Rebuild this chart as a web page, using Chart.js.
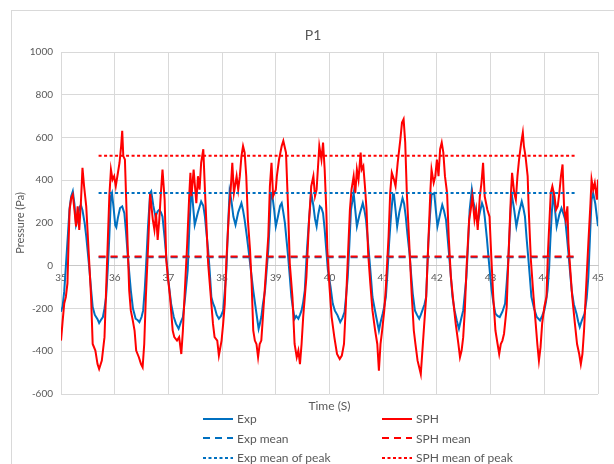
<!DOCTYPE html>
<html>
<head>
<meta charset="utf-8">
<script src="https://cdn.jsdelivr.net/npm/chart.js@4"></script>
<style>
  body { margin: 0; width: 614px; height: 464px; overflow: hidden; background: #fff; position: relative; font-family: Lato, sans-serif; }
  #frame { position: absolute; left: 11px; top: 10px; width: 640px; height: 480px; border: 1px solid #d9d9d9; pointer-events: none; }
  #chart { position: absolute; left: 0; top: 0; }
  #title { position: absolute; left: 12px; width: 602px; top: 26px; line-height: 18px; text-align: center; font-size: 14px; color: #595959; }
  #xtitle { position: absolute; left: 61px; width: 537px; top: 398px; line-height: 15px; text-align: center; font-size: 12px; color: #595959; }
  #legend { position: absolute; left: 203px; top: 409px; display: grid; grid-template-columns: 179px 179px; font-size: 12px; color: #595959; }
  .item { display: flex; align-items: center; height: 19.5px; white-space: nowrap; }
  .item svg { margin-right: 4px; }
</style>
</head>
<body>
<canvas id="chart" width="614" height="464"></canvas>
<div id="frame"></div>
<div id="title">P1</div>
<div id="xtitle">Time (S)</div>
<div id="legend"></div>
<script>
const FONT = 'Lato, sans-serif';
const GREY = '#595959';

// Experimental pressure trace
const expTime = [35.00,35.03,35.06,35.09,35.13,35.16,35.19,35.22,35.25,35.28,35.31,35.34,35.37,35.40,35.44,35.47,35.50,35.53,35.56,35.59,35.63,35.68,35.71,35.74,35.78,35.81,35.84,35.87,35.90,35.93,35.95,35.98,36.01,36.03,36.06,36.10,36.14,36.18,36.21,36.24,36.27,36.30,36.34,36.39,36.43,36.46,36.50,36.53,36.56,36.58,36.62,36.66,36.68,36.72,36.76,36.80,36.83,36.86,36.89,36.93,36.96,37.00,37.05,37.10,37.14,37.19,37.23,37.27,37.31,37.36,37.39,37.42,37.44,37.49,37.55,37.61,37.65,37.68,37.71,37.74,37.77,37.80,37.83,37.86,37.90,37.94,37.98,38.02,38.05,38.08,38.11,38.14,38.17,38.21,38.25,38.30,38.36,38.39,38.42,38.46,38.50,38.54,38.58,38.61,38.64,38.68,38.70,38.73,38.76,38.80,38.83,38.86,38.89,38.91,38.93,38.97,39.00,39.04,39.08,39.11,39.14,39.17,39.20,39.23,39.26,39.29,39.32,39.35,39.38,39.42,39.45,39.48,39.51,39.54,39.56,39.58,39.62,39.66,39.70,39.73,39.76,39.79,39.82,39.85,39.88,39.91,39.94,39.97,40.02,40.06,40.10,40.15,40.20,40.24,40.28,40.31,40.34,40.37,40.40,40.45,40.48,40.51,40.56,40.62,40.65,40.68,40.71,40.74,40.77,40.80,40.84,40.87,40.92,40.95,40.99,41.02,41.05,41.08,41.11,41.15,41.18,41.20,41.23,41.26,41.30,41.36,41.39,41.42,41.45,41.49,41.52,41.55,41.59,41.63,41.67,41.70,41.73,41.77,41.80,41.82,41.84,41.87,41.90,41.95,41.98,42.01,42.05,42.10,42.13,42.17,42.20,42.23,42.26,42.29,42.33,42.37,42.41,42.45,42.49,42.52,42.55,42.58,42.61,42.65,42.68,42.71,42.76,42.80,42.84,42.87,42.89,42.93,42.96,42.99,43.02,43.05,43.09,43.13,43.17,43.22,43.27,43.30,43.33,43.36,43.39,43.44,43.48,43.53,43.58,43.61,43.64,43.67,43.70,43.73,43.76,43.81,43.86,43.92,43.96,44.00,44.03,44.06,44.09,44.11,44.14,44.17,44.20,44.23,44.28,44.32,44.36,44.39,44.42,44.45,44.48,44.51,44.55,44.60,44.63,44.66,44.70,44.75,44.79,44.82,44.85,44.88,44.91,44.95,45.00];
const expPa = [-215,-190,-120,-5,150,270,325,348,290,190,215,270,285,260,200,137,60,-20,-110,-193,-230,-250,-268,-255,-240,-200,-146,-20,137,325,340,270,190,180,225,270,278,246,160,58,-30,-115,-200,-248,-255,-264,-240,-209,-110,-20,180,340,348,280,230,255,262,250,230,130,42,-70,-177,-240,-271,-295,-265,-240,-150,-20,180,325,340,191,250,301,280,230,150,74,-30,-146,-175,-193,-230,-248,-235,-209,-120,-20,180,348,310,230,191,250,293,260,215,140,58,-30,-115,-170,-224,-295,-275,-240,-180,-115,-20,74,220,333,340,260,184,230,280,293,250,199,120,42,-50,-146,-200,-248,-235,-248,-230,-209,-170,-115,-20,74,220,340,280,220,184,240,278,270,246,170,74,-20,-100,-177,-210,-232,-264,-245,-217,-140,-52,100,262,340,260,184,240,293,260,215,130,42,-50,-146,-200,-240,-303,-265,-224,-190,-146,-30,105,250,333,333,260,184,250,317,290,230,150,58,-40,-130,-209,-230,-248,-230,-209,-180,-146,-20,105,230,333,340,260,184,230,285,260,215,130,42,-50,-146,-210,-256,-295,-250,-209,-130,-52,100,262,356,300,262,199,250,293,270,230,130,42,-40,-115,-170,-224,-235,-240,-215,-177,-80,27,190,340,260,184,250,301,270,230,130,42,-50,-146,-200,-240,-256,-235,-209,-170,-115,-10,105,250,348,260,184,240,270,240,215,140,58,-30,-115,-180,-224,-260,-287,-255,-224,-150,-52,130,309,340,290,185];

// SPH pressure trace
const sphTime = [35.00,35.03,35.06,35.09,35.12,35.14,35.16,35.19,35.22,35.25,35.28,35.31,35.34,35.37,35.40,35.43,35.47,35.50,35.53,35.56,35.59,35.64,35.68,35.71,35.76,35.81,35.84,35.87,35.90,35.93,35.96,35.99,36.02,36.06,36.09,36.12,36.14,36.16,36.19,36.21,36.24,36.27,36.30,36.34,36.37,36.40,36.45,36.49,36.52,36.55,36.58,36.63,36.66,36.71,36.74,36.77,36.80,36.83,36.86,36.89,36.93,36.96,36.99,37.03,37.08,37.11,37.16,37.20,37.24,37.27,37.30,37.35,37.39,37.41,37.43,37.47,37.52,37.55,37.58,37.61,37.65,37.68,37.71,37.74,37.77,37.80,37.83,37.86,37.91,37.94,37.99,38.02,38.05,38.08,38.13,38.16,38.19,38.22,38.27,38.30,38.33,38.36,38.39,38.42,38.45,38.48,38.52,38.55,38.58,38.61,38.64,38.67,38.70,38.73,38.76,38.81,38.86,38.89,38.92,38.95,39.00,39.02,39.06,39.11,39.14,39.19,39.23,39.26,39.31,39.35,39.39,39.42,39.45,39.48,39.51,39.57,39.62,39.66,39.70,39.73,39.76,39.81,39.85,39.88,39.91,39.94,39.96,40.00,40.04,40.09,40.14,40.19,40.23,40.27,40.30,40.34,40.38,40.41,40.45,40.48,40.51,40.54,40.58,40.60,40.63,40.66,40.69,40.72,40.76,40.80,40.85,40.89,40.92,40.95,40.98,41.02,41.05,41.10,41.13,41.16,41.20,41.23,41.27,41.32,41.35,41.38,41.41,41.44,41.47,41.50,41.53,41.57,41.60,41.64,41.67,41.70,41.73,41.76,41.80,41.84,41.88,41.90,41.94,41.97,42.00,42.03,42.06,42.09,42.12,42.15,42.19,42.22,42.26,42.31,42.35,42.40,42.43,42.46,42.49,42.52,42.55,42.60,42.63,42.66,42.70,42.73,42.76,42.80,42.83,42.86,42.89,42.94,42.98,43.01,43.05,43.09,43.13,43.16,43.19,43.22,43.25,43.30,43.33,43.38,43.40,43.44,43.47,43.50,43.53,43.57,43.60,43.62,43.65,43.69,43.71,43.75,43.80,43.84,43.87,43.90,43.93,43.96,44.00,44.04,44.07,44.12,44.15,44.19,44.22,44.25,44.28,44.31,44.34,44.37,44.40,44.43,44.45,44.48,44.52,44.57,44.61,44.65,44.68,44.71,44.74,44.77,44.82,44.86,44.88,44.91,44.94,44.98,45.00];
const sphPa = [-350,-260,-177,-146,-83,100,262,317,333,262,184,278,168,293,458,372,278,137,-5,-146,-366,-397,-460,-483,-444,-334,-115,105,325,450,403,419,372,435,482,560,631,513,497,340,105,-115,-209,-260,-303,-397,-428,-460,-475,-366,-146,137,340,215,168,246,121,215,340,450,309,27,-52,-146,-303,-334,-350,-334,-413,-303,-146,105,340,435,325,450,293,419,356,482,545,356,184,11,-83,-177,-271,-334,-350,-420,-350,-271,-177,27,262,356,482,340,419,356,419,513,560,529,419,215,74,-83,-303,-350,-366,-428,-366,-350,-240,-52,137,372,482,325,356,419,497,560,584,529,262,11,-146,-366,-428,-397,-460,-366,-240,-52,215,372,419,325,356,560,497,576,450,262,74,-99,-240,-334,-413,-436,-420,-366,-209,27,262,356,419,340,450,403,529,450,466,372,262,58,-83,-209,-303,-366,-491,-366,-303,-209,-99,137,340,435,403,372,482,592,670,686,576,340,184,27,-130,-303,-366,-444,-475,-507,-397,-287,-146,105,356,450,388,419,497,419,545,576,529,419,340,137,-52,-177,-271,-366,-428,-397,-334,-209,-20,215,262,325,215,262,168,325,388,482,325,262,230,58,-146,-303,-366,-413,-366,-350,-318,-193,27,340,435,340,309,419,497,576,623,560,513,419,262,27,-146,-271,-366,-444,-381,-271,-193,-146,74,340,372,325,262,278,340,419,474,262,215,278,105,-5,-146,-271,-366,-413,-460,-413,-303,-146,105,293,403,356,388,309,403];

// Reference levels, drawn across the averaging window
const meanWindow = [35.7, 44.6];
const expMean = 40;
const sphMean = 43;
const expPeakMean = 340;
const sphPeakMean = 515;

const pts = (xs, ys) => xs.map((x, i) => ({ x, y: ys[i] }));
const level = v => meanWindow.map(x => ({ x, y: v }));

const BLUE = '#0070C0';
const RED = '#FF0000';

const datasets = [
  { label: 'Exp', data: pts(expTime, expPa), borderColor: BLUE, borderWidth: 2, order: 6 },
  { label: 'SPH', data: pts(sphTime, sphPa), borderColor: RED, borderWidth: 2, order: 5 },
  { label: 'Exp mean', data: level(expMean), borderColor: BLUE, borderWidth: 2, borderDash: [7, 5], order: 4 },
  { label: 'SPH mean', data: level(sphMean), borderColor: RED, borderWidth: 2, borderDash: [7, 5], order: 3 },
  { label: 'Exp mean of peak', data: level(expPeakMean), borderColor: BLUE, borderWidth: 2, borderDash: [3, 2.5], order: 2 },
  { label: 'SPH mean of peak', data: level(sphPeakMean), borderColor: RED, borderWidth: 2, borderDash: [3, 2.5], order: 1 }
];

const chart = new Chart(document.getElementById('chart').getContext('2d'), {
  type: 'line',
  data: { datasets },
  options: {
    responsive: false,
    animation: false,
    devicePixelRatio: 1,
    elements: { point: { radius: 0 }, line: { tension: 0, fill: false } },
    layout: { padding: { left: 12, right: 16, top: 52, bottom: 70 } },
    plugins: {
      legend: { display: false },
      tooltip: { enabled: false }
    },
    scales: {
      x: {
        type: 'linear',
        position: { y: 0 },
        min: 35,
        max: 45,
        afterFit: s => { s.height = 0; },
        grid: { color: '#d9d9d9', drawTicks: false },
        border: { color: '#c8c8c8' },
        ticks: { stepSize: 1, padding: 6, color: GREY, font: { size: 10, family: FONT } }
      },
      y: {
        min: -600,
        max: 1000,
        afterFit: s => { s.width = 49; },
        grid: { color: '#d9d9d9', drawTicks: false },
        border: { display: false },
        ticks: { stepSize: 200, padding: 8, color: GREY, font: { size: 10, family: FONT }, callback: v => String(v) },
        title: {
          display: true,
          text: 'Pressure (Pa)',
          color: GREY,
          font: { size: 11, family: FONT },
          padding: { top: 2, bottom: 0 }
        }
      }
    }
  }
});

// two-column legend built from the datasets
document.getElementById('legend').innerHTML = chart.data.datasets.map(ds => `
  <div class="item">
    <svg width="30" height="4"><line x1="0" y1="2" x2="30" y2="2" stroke="${ds.borderColor}" stroke-width="2"
      ${ds.borderDash ? `stroke-dasharray="${ds.borderDash.join(' ')}"` : ''}/></svg>${ds.label}
  </div>`).join('');
</script>
</body>
</html>
